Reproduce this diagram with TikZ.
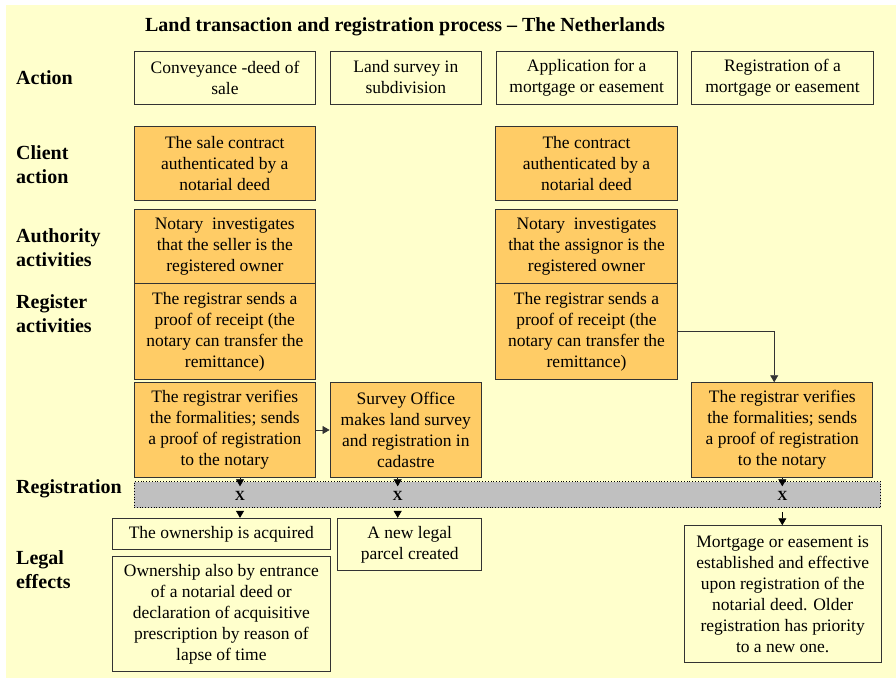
\documentclass[tikz,border=0pt]{standalone}
\usepackage{fontspec}
\setmainfont{Liberation Serif}
\usetikzlibrary{arrows.meta,calc}
\definecolor{bgyel}{HTML}{FFFFCC}
\definecolor{orbox}{HTML}{FFCC66}
\definecolor{barg}{HTML}{C0C0C0}
\definecolor{edge}{HTML}{333333}
\begin{document}
\begin{tikzpicture}[x=1pt,y=-1pt,
  txt/.style={font=\fontsize{17.5}{21}\selectfont, align=center, inner sep=0pt},
  actbox/.style={txt, draw=edge, line width=0.9pt, fill=bgyel},
  obox/.style={txt, draw=edge, line width=0.9pt, fill=orbox},
  legbox/.style={txt, draw=edge, line width=0.9pt, fill=bgyel},
  rowlab/.style={font=\fontsize{20}{24}\selectfont\bfseries, align=left, anchor=west, inner sep=0pt},
  xmark/.style={font=\fontsize{14}{16}\selectfont\bfseries, inner sep=0pt},
  arr/.style={-{Triangle[width=8pt,length=7pt]}, line width=0.7pt, draw=black},
  conn/.style={-{Triangle[width=8pt,length=7pt]}, line width=0.7pt, draw=edge}
]
\useasboundingbox (0,0) rectangle (896,679);
\fill[bgyel] (6,5) rectangle (896,678);

\node[font=\fontsize{20}{24}\selectfont\bfseries, inner sep=0pt] (title) at (405,27) {Land transaction and registration process -- The Netherlands};

% row labels
\node[rowlab] (lAction) at (16,77.5) {Action};
\node[rowlab] (lClient) at (16,164.5) {Client\\action};
\node[rowlab] (lAuth) at (16,247.5) {Authority\\activities};
\node[rowlab] (lReg) at (16,314) {Register\\activities};
\node[rowlab] (lRegistration) at (16,489) {Registration};
\node[rowlab] (lLegal) at (16,570) {Legal\\effects};

% action boxes
\node[actbox, minimum width=181.4pt, minimum height=53pt] (a1) at (225,77.5) {Conveyance -deed of\\sale};
\node[actbox, minimum width=151.7pt, minimum height=53pt] (a2) at (405.85,77.5) {Land survey in\\subdivision};
\node[actbox, minimum width=181.3pt, minimum height=53pt] (a3) at (586.65,77.5) {Application for a\\mortgage or easement};
\node[actbox, minimum width=181.6pt, minimum height=53pt] (a4) at (782.5,77.5) {Registration of a\\mortgage or easement};

% column 1
\node[obox, minimum width=181pt, minimum height=73.3pt] (c1) at (224.8,163.35) {The sale contract\\authenticated by a\\notarial deed};
\node[obox, minimum width=181pt, minimum height=74pt] (au1) at (224.8,246.3) {Notary\ \ investigates\\that the seller is the\\registered owner};
\node[obox, minimum width=181pt, minimum height=96pt] (r1) at (224.8,331.3) {The registrar sends a\\proof of receipt (the\\notary can transfer the\\remittance)};
\node[obox, minimum width=181pt, minimum height=94.6pt] (v1) at (224.8,430) {The registrar verifies\\the formalities; sends\\a proof of registration\\to the notary};

% column 2
\node[obox, minimum width=151.7pt, minimum height=94.6pt] (s) at (405.85,430) {Survey Office\\makes land survey\\and registration in\\cadastre};

% column 3
\node[obox, minimum width=181.6pt, minimum height=73.3pt] (c2) at (586.5,163.35) {The contract\\authenticated by a\\notarial deed};
\node[obox, minimum width=181.6pt, minimum height=74pt] (au2) at (586.5,246.3) {Notary\ \ investigates\\that the assignor is the\\registered owner};
\node[obox, minimum width=181.6pt, minimum height=96pt] (r2) at (586.5,331.3) {The registrar sends a\\proof of receipt (the\\notary can transfer the\\remittance)};

% column 4
\node[obox, minimum width=181pt, minimum height=94.6pt] (v3) at (782.2,430) {The registrar verifies\\the formalities; sends\\a proof of registration\\to the notary};

% registration bar
\node[draw=black, dotted, line width=0.8pt, fill=barg, minimum width=746.7pt, minimum height=26pt, inner sep=0pt] (bar) at (507.35,494.7) {};
\node[xmark] (x1) at (240,496) {X};
\node[xmark] (x2) at (397.7,496) {X};
\node[xmark] (x3) at (782.3,496) {X};

% legal effects
\node[legbox, minimum width=218.7pt, minimum height=31pt] (L1) at (221.35,533.8) {The ownership is acquired};
\node[legbox, minimum width=218.7pt, minimum height=115pt] (L2) at (221.35,614.2) {Ownership also by entrance\\of a notarial deed or\\declaration of acquisitive\\prescription by reason of\\lapse of time};
\node[legbox, minimum width=144pt, minimum height=52.4pt] (L3) at (409.7,544.5) {A new legal\\parcel created};
\node[legbox, minimum width=196.7pt, minimum height=136.6pt] (L4) at (782.65,594) {Mortgage or easement is\\established and effective\\upon registration of the\\notarial deed. Older\\registration has priority\\to a new one.};

% connectors
\draw[conn] (v1.east) -- (s.west);
\draw[conn] (r2.east) -| ([xshift=-8pt]v3.north);
\draw[arr] (v1.south -| x1) -- ($(bar.north -| x1)+(0,5)$);
\draw[arr] (s.south -| x2) -- ($(bar.north -| x2)+(0,5)$);
\draw[arr] (v3.south -| x3) -- ($(bar.north -| x3)+(0,5)$);
\draw[arr] ($(bar.south -| x1)+(0,4)$) -- (L1.north -| x1);
\draw[arr] ($(bar.south -| x2)+(0,4)$) -- (L3.north -| x2);
\draw[arr] ($(bar.south -| x3)+(0,4)$) -- (L4.north -| x3);
\end{tikzpicture}
\end{document}
